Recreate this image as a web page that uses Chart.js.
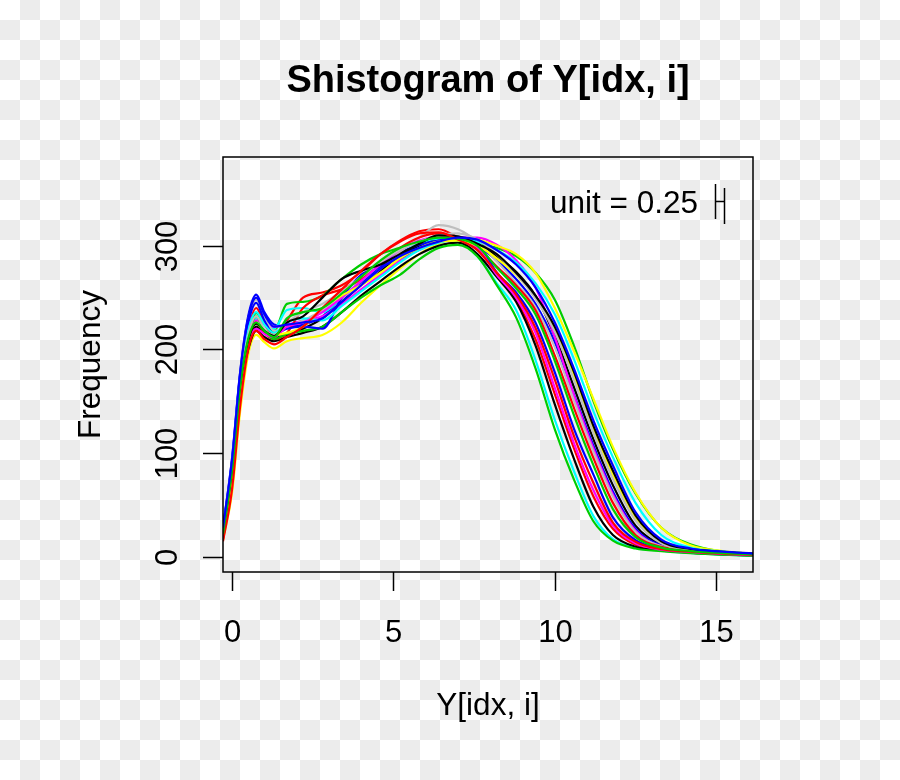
<!DOCTYPE html>
<html>
<head>
<meta charset="utf-8">
<script src="https://cdn.jsdelivr.net/npm/chart.js@4/dist/chart.umd.min.js"></script>
<style>
  html, body { margin: 0; padding: 0; background: #ffffff; }
  canvas { display: block; }
</style>
</head>
<body>
<canvas id="shist" width="900" height="780"></canvas>
<script>
// x positions shared by all curves
const xs = [-0.28, 0, 0.25, 0.5, 0.75, 1, 1.3, 1.7, 2.2, 2.8, 3.4, 4, 4.6, 5.2, 5.8, 6.4, 7, 7.6,
            8.2, 8.8, 9.4, 10, 10.6, 11.2, 11.8, 12.5, 13.3, 14.2, 15.2, 16.14];

// one curve per column of Y, R palette recycled
const s1  = [22, 85, 165, 205, 222, 216, 212, 214, 220, 230, 246, 262, 276, 290, 300, 307, 309, 303, 290, 275, 252, 213, 163, 113, 69, 30, 12, 6.5, 4.2, 2.6];
const s2  = [18, 70, 150, 215, 240, 225, 213, 228, 250, 255, 262, 275, 292, 305, 314, 316, 308, 296, 274, 248, 210, 157, 104, 58, 27, 11.5, 6.7, 4.5, 2.6, 1.6];
const s3  = [25, 90, 170, 215, 235, 225, 218, 244, 246, 252, 268, 282, 292, 298, 304, 308, 305, 302, 298, 290, 274, 248, 203, 150, 104, 61, 28, 12, 5, 2.5];
const s4  = [28, 95, 178, 232, 253, 236, 224, 222, 224, 232, 250, 264, 280, 293, 301, 305, 306, 300, 286, 268, 244, 207, 156, 107, 63, 27, 11, 6.3, 4, 2.5];
const s5  = [24, 88, 168, 212, 230, 224, 220, 238, 240, 236, 250, 266, 282, 296, 303, 307, 304, 290, 264, 238, 190, 132, 82, 39, 17, 8.5, 6, 3.7, 2.1, 1.1];
const s6  = [20, 82, 162, 210, 228, 225, 222, 224, 228, 232, 244, 258, 272, 286, 296, 304, 308, 308, 301, 286, 260, 212, 155, 104, 60, 25, 10, 6, 3.9, 2.4];
const s7  = [16, 62, 140, 195, 214, 207, 201, 208, 211, 214, 226, 245, 262, 278, 292, 302, 307, 306, 300, 292, 274, 240, 198, 152, 106, 62, 28, 11, 5.5, 3];
const s8  = [26, 93, 175, 228, 248, 232, 218, 222, 228, 238, 250, 262, 278, 294, 308, 320, 316, 304, 285, 264, 241, 202, 150, 101, 58, 24, 10, 6, 3.9, 2.4];
const s9  = [20, 80, 160, 200, 218, 212, 208, 212, 216, 222, 236, 252, 266, 280, 292, 300, 303, 292, 270, 246, 204, 147, 94, 48, 21, 9.7, 6.3, 4, 2.3, 1.2];
const s10 = [17, 72, 152, 208, 226, 216, 210, 216, 240, 252, 258, 268, 284, 298, 308, 312, 308, 298, 280, 262, 238, 194, 143, 95, 52, 21, 9.5, 5.8, 3.8, 2.3];
const s11 = [22, 84, 165, 212, 232, 218, 210, 215, 218, 222, 236, 250, 262, 272, 287, 298, 301, 290, 262, 231, 182, 123, 74, 34, 15.5, 8, 5.4, 3.5, 2, 1];
const s12 = [27, 92, 175, 225, 245, 228, 215, 220, 222, 220, 250, 272, 280, 288, 298, 305, 308, 303, 274, 255, 226, 178, 123, 79, 38, 16, 7.8, 5.2, 3.3, 2];
const s13 = [25, 90, 172, 218, 236, 224, 216, 226, 230, 228, 242, 256, 270, 284, 296, 303, 306, 304, 296, 284, 264, 234, 190, 140, 96, 52, 21, 9, 5, 3];
const s14 = [21, 82, 162, 205, 220, 215, 212, 222, 226, 236, 250, 266, 282, 296, 305, 309, 306, 298, 272, 250, 216, 163, 109, 64, 30, 13, 6.9, 4.6, 2.8, 1.6];
const s15 = [19, 78, 158, 208, 225, 218, 214, 216, 222, 240, 252, 262, 274, 288, 298, 304, 305, 300, 288, 272, 250, 220, 174, 123, 79, 37, 13.5, 7.2, 4.6, 2.8];
const s16 = [23, 86, 166, 214, 232, 220, 214, 226, 236, 244, 256, 270, 284, 296, 304, 310, 312, 306, 292, 273, 249, 217, 170, 119, 75, 35, 13, 7, 4.4, 2.8];
const s17 = [22, 84, 164, 208, 225, 218, 213, 226, 232, 250, 268, 276, 282, 292, 302, 310, 309, 302, 292, 274, 252, 222, 178, 126, 83, 40, 15, 7.6, 4.8, 3];
const s18 = [15, 65, 145, 200, 218, 210, 205, 212, 222, 240, 258, 276, 292, 304, 312, 313, 306, 296, 274, 253, 221, 171, 116, 71, 33, 14.5, 7.4, 5, 3, 1.8];
const s19 = [22, 84, 164, 210, 226, 218, 212, 230, 236, 240, 254, 270, 286, 298, 304, 308, 307, 300, 279, 259, 234, 189, 136, 88, 46, 19, 8.8, 5.5, 3.6, 2.2];
const s20 = [28, 94, 177, 230, 250, 234, 222, 224, 226, 230, 246, 262, 278, 290, 298, 304, 308, 306, 296, 282, 260, 226, 181, 131, 88, 43, 16.5, 8, 4.9, 3.1];

const series = [s1, s2, s3, s4, s5, s6, s7, s8, s9, s10, s11, s12, s13, s14, s15, s16, s17, s18, s19, s20];
const palette = ['#000000', '#FF0000', '#00CD00', '#0000FF', '#00FFFF', '#FF00FF', '#FFFF00', '#BEBEBE'];

const xTicks = [0, 5, 10, 15];
const yTicks = [0, 100, 200, 300];
const title = 'Shistogram of Y[idx, i]';
const xTitle = 'Y[idx, i]';
const yTitle = 'Frequency';
const unitLabel = 'unit = 0.25';

const FONT = '"Liberation Sans", Arial, Helvetica, sans-serif';

// transparent-image checkerboard behind everything
const checker = {
  id: 'checker',
  beforeDraw(chart) {
    const ctx = chart.ctx;
    ctx.save();
    ctx.fillStyle = '#ffffff';
    ctx.fillRect(0, 0, chart.width, chart.height);
    ctx.fillStyle = '#ececec';
    for (let r = 0; r * 20 < chart.height; r++) {
      for (let c = 0; c * 20 < chart.width; c++) {
        if ((r + c) % 2 === 1) ctx.fillRect(c * 20, r * 20, 20, 20);
      }
    }
    ctx.restore();
  }
};

// R style frame, ticks and labels
const rAxes = {
  id: 'rAxes',
  afterDraw(chart) {
    const ctx = chart.ctx;
    const a = chart.chartArea;
    const xs_ = chart.scales.x, ys_ = chart.scales.y;
    ctx.save();
    ctx.strokeStyle = '#000';
    ctx.fillStyle = '#000';
    ctx.lineWidth = 1.5;
    ctx.strokeRect(a.left, a.top, a.right - a.left, a.bottom - a.top);

    ctx.font = '31px ' + FONT;
    // x ticks
    ctx.textAlign = 'center';
    ctx.textBaseline = 'alphabetic';
    xTicks.forEach(v => {
      const px = Math.round(xs_.getPixelForValue(v)) + 0.5;
      ctx.beginPath();
      ctx.moveTo(px, a.bottom);
      ctx.lineTo(px, a.bottom + 19);
      ctx.stroke();
      ctx.fillText(String(v), px, 642);
    });
    // y ticks, labels rotated
    yTicks.forEach(v => {
      const py = Math.round(ys_.getPixelForValue(v)) + 0.5;
      ctx.beginPath();
      ctx.moveTo(a.left, py);
      ctx.lineTo(a.left - 20, py);
      ctx.stroke();
      ctx.save();
      ctx.translate(177, py);
      ctx.rotate(-Math.PI / 2);
      ctx.fillText(String(v), 0, 0);
      ctx.restore();
    });

    // axis titles
    const cx = (a.left + a.right) / 2;
    const cy = (a.top + a.bottom) / 2;
    ctx.font = '31.5px ' + FONT;
    ctx.fillText(xTitle, cx, 715);
    ctx.save();
    ctx.translate(100, cy);
    ctx.rotate(-Math.PI / 2);
    ctx.fillText(yTitle, 0, 0);
    ctx.restore();

    // main title
    ctx.font = 'bold 38px ' + FONT;
    ctx.fillText(title, cx, 92);

    // unit legend with scale bar
    ctx.font = '31.5px ' + FONT;
    ctx.textAlign = 'right';
    ctx.fillText(unitLabel, 698, 213);
    ctx.lineWidth = 1.5;
    ctx.beginPath();
    ctx.moveTo(715.5, 184); ctx.lineTo(715.5, 219);
    ctx.moveTo(724.5, 188); ctx.lineTo(724.5, 224);
    ctx.moveTo(715.5, 201.5); ctx.lineTo(724.5, 201.5);
    ctx.stroke();
    ctx.restore();
  }
};

const datasets = series.map((s, i) => ({
  label: 'V' + (i + 1),
  data: s.map((y, j) => ({ x: xs[j], y: y })),
  borderColor: palette[i % palette.length],
  borderWidth: 2.2,
  pointRadius: 0,
  fill: false,
  cubicInterpolationMode: 'monotone',
  order: series.length - i
}));

new Chart(document.getElementById('shist').getContext('2d'), {
  type: 'line',
  data: { datasets: datasets },
  options: {
    responsive: false,
    animation: false,
    layout: { padding: { left: 223, right: 147, top: 157, bottom: 208 } },
    plugins: { legend: { display: false }, tooltip: { enabled: false }, title: { display: false } },
    scales: {
      x: { type: 'linear', min: -0.28, max: 16.14, display: false },
      y: { type: 'linear', min: -14.7, max: 385.7, display: false }
    }
  },
  plugins: [checker, rAxes]
});
</script>
</body>
</html>
